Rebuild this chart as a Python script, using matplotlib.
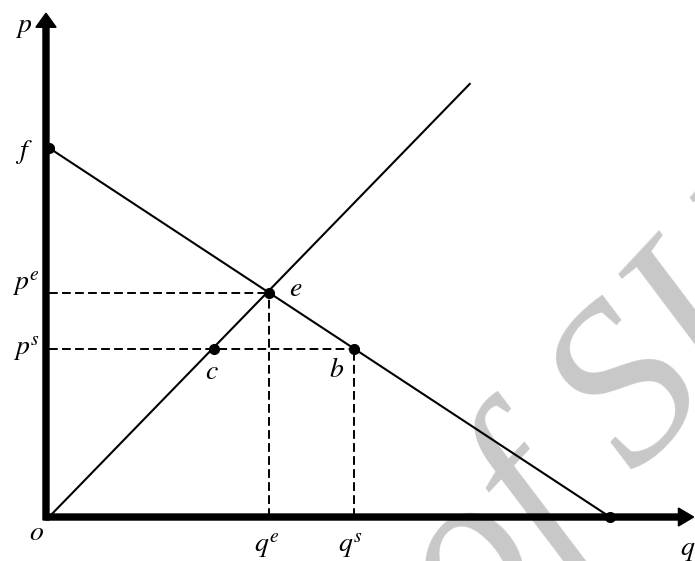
import matplotlib.pyplot as plt

plt.rcParams['mathtext.fontset'] = 'stix'
plt.rcParams['font.family'] = ['Liberation Serif', 'DejaVu Serif']

# demand and supply lines (diagram units)
demand_q = [0, 10.0]
demand_p = [6.58, 0]
supply_q = [0, 7.5]
supply_p = [0, 7.72]

# marked points
q_e, p_e = 3.92, 4.0
q_c, q_s, p_s = 2.94, 5.44, 3.0
q_max, p_max = 11.49, 8.98

fig = plt.figure(figsize=(6.95, 5.61), dpi=100)
ax = fig.add_axes([0, 0, 1, 1])
ax.set_xlim(-0.873, 11.515)
ax.set_ylim(-0.784, 9.216)
ax.axis('off')

# watermark
ax.text(7.6, -2.35, 'of SU', rotation=47, rotation_mode='anchor',
        ha='left', va='baseline', fontsize=165, style='italic',
        color='#c8c8c8', zorder=0, clip_on=True)

# axes with arrows
w = 0.107
ax.arrow(-w / 2, -w / 2, 0, p_max + w / 2, width=w, head_width=0.36, head_length=0.25,
         length_includes_head=True, color='k', zorder=5)
ax.arrow(-w / 2, 0, q_max + w / 2, 0, width=w, head_width=0.32, head_length=0.27,
         length_includes_head=True, color='k', zorder=5)

ax.plot(demand_q, demand_p, color='k', lw=1.5, zorder=3)
ax.plot(supply_q, supply_p, color='k', lw=1.5, zorder=3)

dash = (0, (4.5, 2.2))
ax.plot([0, q_e], [p_e, p_e], color='k', lw=1.4, linestyle=dash)
ax.plot([0, q_s], [p_s, p_s], color='k', lw=1.4, linestyle=dash)
ax.plot([q_e, q_e], [0, p_e], color='k', lw=1.4, linestyle=dash)
ax.plot([q_s, q_s], [0, p_s], color='k', lw=1.4, linestyle=dash)

ax.plot([0, q_e, q_c, q_s, demand_q[1]], [demand_p[0], p_e, p_s, p_s, 0], 'o',
        color='k', markersize=7, zorder=6)

fs = 20
ax.text(-0.46, 8.72, '$p$', fontsize=fs, ha='center', va='center')
ax.text(-0.45, 6.51, '$f$', fontsize=fs, ha='center', va='center')
ax.text(-0.42, 4.14, '$p^{e}$', fontsize=fs, ha='center', va='center')
ax.text(-0.40, 2.98, '$p^{s}$', fontsize=fs, ha='center', va='center')
ax.text(4.39, 4.06, '$e$', fontsize=fs, ha='center', va='center')
ax.text(2.91, 2.57, '$c$', fontsize=fs, ha='center', va='center')
ax.text(5.13, 2.62, '$b$', fontsize=fs, ha='center', va='center')
ax.text(-0.23, -0.285, '$o$', fontsize=fs, ha='center', va='center')
ax.text(3.88, -0.53, '$q^{e}$', fontsize=fs, ha='center', va='center')
ax.text(5.38, -0.53, '$q^{s}$', fontsize=fs, ha='center', va='center')
ax.text(11.38, -0.59, '$q$', fontsize=fs, ha='center', va='center')

fig.savefig('out.png', dpi=100)
